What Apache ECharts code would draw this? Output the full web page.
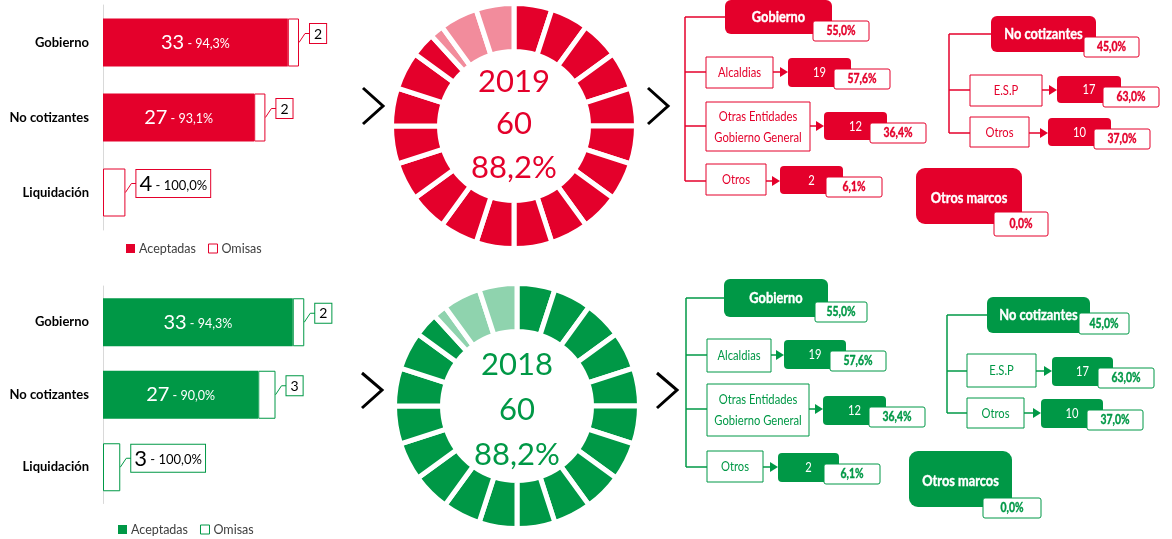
<!DOCTYPE html>
<html>
<head>
<meta charset="utf-8">
<script src="https://cdn.jsdelivr.net/npm/echarts@6/dist/echarts.min.js"></script>
<style>
  html, body { margin: 0; padding: 0; background: #fff; }
  #wrap { position: relative; width: 1172px; height: 539px; }
  .chart { position: absolute; left: 0; top: 0; width: 1172px; height: 539px; }
</style>
</head>
<body>
<div id="wrap">
  <div id="c2019" class="chart"></div>
  <div id="c2018" class="chart"></div>
</div>
<script>
// ---------- data ----------
const categories = ['Gobierno', 'No cotizantes', 'Liquidación'];
const outlinedCategory = 'Liquidación';

const years = [2019, 2018];
const aceptadas2019 = [33, 27, 4];
const omisas2019 = [2, 2, 0];
const pctAceptadas2019 = ['94,3%', '93,1%', '100,0%'];
const aceptadas2018 = [33, 27, 3];
const omisas2018 = [2, 3, 0];
const pctAceptadas2018 = ['94,3%', '90,0%', '100,0%'];

const totalAceptadas = [60, 60];
const pctTotal = [88.2, 88.2];
const pctTotalLabel = ['88,2%', '88,2%'];

const gobiernoShare = ['55,0%', '55,0%'];
const noCotizantesShare = ['45,0%', '45,0%'];
const otrosMarcosShare = ['0,0%', '0,0%'];

const gobiernoGroups = ['Alcaldias', 'Otras Entidades\nGobierno General', 'Otros'];
const gobiernoCounts2019 = [19, 12, 2];
const gobiernoPct2019 = ['57,6%', '36,4%', '6,1%'];
const gobiernoCounts2018 = [19, 12, 2];
const gobiernoPct2018 = ['57,6%', '36,4%', '6,1%'];

const noCotGroups = ['E.S.P', 'Otros'];
const noCotCounts2019 = [17, 10];
const noCotPct2019 = ['63,0%', '37,0%'];
const noCotCounts2018 = [17, 10];
const noCotPct2018 = ['63,0%', '37,0%'];

const SEGMENTS = 20;

// ---------- fonts ----------
const FONT = 'Lato, "Noto Sans", sans-serif';
const NARROW_SCALE = 0.8;   // horizontal squeeze for the diagram captions

// ---------- layouts ----------
const layouts = [
  {
    grid: { left: 103, top: 5, width: 224, height: 225 },
    donut: { cx: 514, cy: 126, textY: [82, 124, 168] },
    chevrons: [[[363, 88], [383, 106], [363, 124]], [[648, 88], [668, 106], [648, 124]]],
    legend: { left: 121, top: 237 },
    gob: {
      lineX: 685,
      header: { x: 725, y: 0, w: 107, h: 34, pct: { dx: 88, dy: 21, w: 56, h: 20 } },
      rows: [
        { y: 72, box: { x: 706, y: 57, w: 67, h: 31 }, val: { x: 788, y: 58, w: 63, h: 29 } },
        { y: 126, box: { x: 706, y: 102, w: 104, h: 49 }, val: { x: 824, y: 112, w: 63, h: 28 } },
        { y: 181, box: { x: 706, y: 164, w: 60, h: 31 }, val: { x: 780, y: 166, w: 63, h: 28 } }
      ]
    },
    noc: {
      lineX: 949,
      header: { x: 991, y: 16, w: 105, h: 36, pct: { dx: 93, dy: 21, w: 55, h: 20 } },
      rows: [
        { y: 90, box: { x: 970, y: 75, w: 72, h: 31 }, val: { x: 1057, y: 76, w: 64, h: 27 } },
        { y: 133, box: { x: 970, y: 117, w: 59, h: 30 }, val: { x: 1048, y: 118, w: 63, h: 28 } }
      ]
    },
    otros: { x: 916, y: 168, w: 106, h: 56, pct: { dx: 78, dy: 44, w: 54, h: 24 } }
  },
  {
    grid: { left: 103, top: 286, width: 230, height: 217.5 },
    donut: { cx: 517, cy: 406, textY: [365, 410, 455] },
    chevrons: [[[362, 373], [382, 390], [362, 408]], [[657, 373], [677, 390], [657, 408]]],
    legend: { left: 113, top: 518 },
    gob: {
      lineX: 686,
      header: { x: 724, y: 279, w: 104, h: 38, pct: { dx: 91, dy: 23, w: 52, h: 20 } },
      rows: [
        { y: 355, box: { x: 707, y: 339, w: 64, h: 33 }, val: { x: 784, y: 340, w: 62, h: 29 } },
        { y: 409, box: { x: 707, y: 384, w: 102, h: 52 }, val: { x: 823, y: 396, w: 63, h: 29 } },
        { y: 467, box: { x: 707, y: 451, w: 56, h: 31 }, val: { x: 778, y: 453, w: 61, h: 29 } }
      ]
    },
    noc: {
      lineX: 947,
      header: { x: 987, y: 297, w: 103, h: 36, pct: { dx: 92, dy: 16, w: 50, h: 21 } },
      rows: [
        { y: 371, box: { x: 967, y: 354, w: 69, h: 33 }, val: { x: 1052, y: 357, w: 61, h: 29 } },
        { y: 413, box: { x: 967, y: 398, w: 57, h: 30 }, val: { x: 1041, y: 399, w: 62, h: 29 } }
      ]
    },
    otros: { x: 909, y: 451, w: 103, h: 56, pct: { dx: 74, dy: 47, w: 58, h: 20 } }
  }
];

const palettes = [
  { main: '#e4002b', light: '#f28c9c' },
  { main: '#009846', light: '#8fd3ae' }
];

// ---------- helpers ----------
function donutPieces(pct, C, L) {
  const filled = pct / 100 * SEGMENTS;
  const out = [];
  for (let i = 0; i < SEGMENTS; i++) {
    const f = Math.max(0, Math.min(1, filled - i));
    if (f > 0) out.push({ value: f, itemStyle: { color: C } });
    if (f < 1) out.push({ value: 1 - f, itemStyle: { color: L } });
  }
  return out;
}

function caption(x, y, s, st) {
  return {
    type: 'text', silent: true, x: x, y: y, scaleX: NARROW_SCALE,
    style: Object.assign({ text: s, align: 'center', verticalAlign: 'middle', textAlign: 'center', textVerticalAlign: 'middle', fontFamily: FONT }, st)
  };
}

// bold captions get a thin same-colour outline so they read as heavy as the headings
function boldCaption(x, y, s, color, size) {
  return caption(x, y, s, { fill: color, fontSize: size, fontWeight: 'bold', stroke: color, lineWidth: 0.4 });
}

function treeElements(t, C, g) {
  const els = [];
  const line = pts => els.push({ type: 'polyline', silent: true, shape: { points: pts }, style: { stroke: C, lineWidth: 1.5, fill: null } });
  const rect = (b, filled, r) => els.push({
    type: 'rect', silent: true,
    shape: { x: b.x, y: b.y, width: b.w, height: b.h, r: r },
    style: filled ? { fill: C } : { fill: '#fff', stroke: C, lineWidth: 1 }
  });
  const text = (x, y, s, st) => els.push(caption(x, y, s, st));
  const h = t.header;
  const hy = h.y + h.h / 2;
  line([[t.lineX, hy], [t.lineX, t.rows[t.rows.length - 1].y]]);
  line([[t.lineX, hy], [h.x, hy]]);
  rect(h, true, 6);
  els.push(boldCaption(h.x + h.w / 2, hy, g.name, '#fff', 16));
  const hp = { x: h.x + h.pct.dx, y: h.y + h.pct.dy, w: h.pct.w, h: h.pct.h };
  rect(hp, false, 2);
  els.push(boldCaption(hp.x + hp.w / 2, hp.y + hp.h / 2, g.share, C, 13));
  t.rows.forEach((r, i) => {
    line([[t.lineX, r.y], [r.box.x, r.y]]);
    rect(r.box, false, 0);
    text(r.box.x + r.box.w / 2, r.box.y + r.box.h / 2, g.groups[i], { fill: C, fontSize: 14, lineHeight: 21 });
    line([[r.box.x + r.box.w, r.y], [r.val.x - 6, r.y]]);
    els.push({ type: 'polygon', silent: true, shape: { points: [[r.val.x - 8, r.y - 5], [r.val.x, r.y], [r.val.x - 8, r.y + 5]] }, style: { fill: C } });
    rect(r.val, true, 4);
    text(r.val.x + r.val.w / 2, r.val.y + r.val.h / 2, String(g.counts[i]), { fill: '#fff', fontSize: 14 });
    const p = { x: r.val.x + 46, y: r.val.y + 11, w: 56, h: 20 };
    rect(p, false, 2);
    els.push(boldCaption(p.x + p.w / 2, p.y + p.h / 2, g.pcts[i], C, 13));
  });
  return els;
}

function otrosMarcosElements(o, C, share) {
  const p = { x: o.x + o.pct.dx, y: o.y + o.pct.dy, w: o.pct.w, h: o.pct.h };
  return [
    { type: 'rect', silent: true, shape: { x: o.x, y: o.y, width: o.w, height: o.h, r: 9 }, style: { fill: C } },
    boldCaption(o.x + o.w / 2, o.y + o.h / 2 + 2, 'Otros marcos', '#fff', 16),
    { type: 'rect', silent: true, shape: { x: p.x, y: p.y, width: p.w, height: p.h, r: 2 }, style: { fill: '#fff', stroke: C, lineWidth: 1 } },
    boldCaption(p.x + p.w / 2, p.y + p.h / 2, share, C, 13)
  ];
}

function buildOption(k, acc, om, pcts, gobCounts, gobPct, nocCounts, nocPct) {
  const lay = layouts[k];
  const C = palettes[k].main, L = palettes[k].light;

  // callout boxes next to bar ends: omisas counts, and the outlined category's own value
  const callouts = [];
  categories.forEach((c, i) => {
    if (c === outlinedCategory) callouts.push({ x: acc[i] + om[i], cat: i, big: true, v: acc[i], pct: pcts[i] });
    else if (om[i] > 0) callouts.push({ x: acc[i] + om[i], cat: i, big: false, v: om[i] });
  });

  const graphics = [];
  lay.chevrons.forEach(pts => graphics.push({ type: 'polyline', silent: true, shape: { points: pts }, style: { stroke: '#000', lineWidth: 3, fill: null } }));
  const centerTexts = [String(years[k]), String(totalAceptadas[k]), pctTotalLabel[k]];
  centerTexts.forEach((s, i) => graphics.push({
    type: 'text', silent: true, x: lay.donut.cx, y: lay.donut.textY[i],
    style: { text: s, align: 'center', verticalAlign: 'middle', textAlign: 'center', textVerticalAlign: 'middle', fill: C, fontSize: 31, fontFamily: FONT }
  }));
  graphics.push(...treeElements(lay.gob, C, { name: 'Gobierno', share: gobiernoShare[k], groups: gobiernoGroups, counts: gobCounts, pcts: gobPct }));
  graphics.push(...treeElements(lay.noc, C, { name: 'No cotizantes', share: noCotizantesShare[k], groups: noCotGroups, counts: nocCounts, pcts: nocPct }));
  graphics.push(...otrosMarcosElements(lay.otros, C, otrosMarcosShare[k]));

  return {
    animation: false,
    textStyle: { fontFamily: FONT },
    grid: lay.grid,
    xAxis: { type: 'value', min: 0, max: 40, show: false },
    yAxis: {
      type: 'category', data: categories, inverse: true,
      axisLine: { show: true, lineStyle: { color: '#d9d9d9', width: 1 } },
      axisTick: { show: false },
      axisLabel: { color: '#000', fontWeight: 'bold', fontSize: 13, margin: 14, fontFamily: FONT }
    },
    legend: {
      left: lay.legend.left, top: lay.legend.top,
      data: [
        { name: 'Aceptadas', itemStyle: { color: C, borderWidth: 0 } },
        { name: 'Omisas', itemStyle: { color: '#fff', borderColor: C, borderWidth: 1 } }
      ],
      icon: 'rect', itemWidth: 9, itemHeight: 9, itemGap: 12,
      textStyle: { color: '#404040', fontSize: 12.5, fontFamily: FONT, padding: [0, 0, 0, -1] }
    },
    series: [
      {
        name: 'Aceptadas', type: 'bar', stack: 'total', barWidth: 48, silent: true,
        itemStyle: { color: C },
        label: {
          show: true, position: 'inside',
          formatter: p => '{a|' + p.value + '}{b| - ' + pcts[p.dataIndex] + '}',
          rich: {
            a: { color: '#fff', fontSize: 20, fontFamily: FONT },
            b: { color: '#fff', fontSize: 12.5, fontFamily: FONT, padding: [3, 0, 0, 0] }
          }
        },
        data: acc.map((v, i) => categories[i] === outlinedCategory
          ? { value: v, itemStyle: { color: '#fff', borderColor: C, borderWidth: 1 }, label: { show: false } }
          : v)
      },
      {
        name: 'Omisas', type: 'bar', stack: 'total', barWidth: 48, silent: true,
        itemStyle: { color: '#fff', borderColor: C, borderWidth: 1 },
        data: om.map(v => v > 0 ? v : '-')
      },
      {
        name: 'callouts', type: 'custom', silent: true, clip: false,
        encode: { x: 0, y: 1 },
        data: callouts.map(d => [d.x, d.cat]),
        renderItem: (params, api) => {
          const d = callouts[params.dataIndex];
          const p = api.coord([d.x, d.cat]);
          const x0 = p[0], y0 = p[1];
          const x1 = x0 + 6, y1 = y0 - 9, x2 = x0 + 11;
          const txt = d.big ? '{a|' + d.v + '}{b| - ' + d.pct + '}' : String(d.v);
          return {
            type: 'group',
            children: [
              { type: 'polyline', shape: { points: [[x0, y0], [x1, y1], [x2, y1]] }, style: { stroke: C, lineWidth: 1, fill: null } },
              { type: 'text', x: x2, y: y1,
                style: {
                  text: txt, align: 'left', verticalAlign: 'middle', textAlign: 'left', textVerticalAlign: 'middle',
                  fill: '#000', fontSize: 14, fontFamily: FONT,
                  backgroundColor: '#fff', borderColor: C, borderWidth: 1,
                  padding: d.big ? [3, 3, 2, 3] : [3, 4, 2, 4],
                  rich: {
                    a: { fill: '#000', fontSize: 22, fontFamily: FONT },
                    b: { fill: '#000', fontSize: 13, fontFamily: FONT, padding: [3, 0, 0, 0] }
                  }
                } }
            ]
          };
        }
      },
      {
        name: 'donut', type: 'pie', silent: true,
        center: [lay.donut.cx, lay.donut.cy], radius: [74.5, 122.5],
        startAngle: 90, clockwise: true,
        label: { show: false }, labelLine: { show: false },
        itemStyle: { borderColor: '#fff', borderWidth: 5 },
        emphasis: { disabled: true },
        data: donutPieces(pctTotal[k], C, L)
      }
    ],
    graphic: { elements: graphics }
  };
}

const chartTop = echarts.init(document.getElementById('c2019'), null, { renderer: 'canvas' });
chartTop.setOption(buildOption(0, aceptadas2019, omisas2019, pctAceptadas2019, gobiernoCounts2019, gobiernoPct2019, noCotCounts2019, noCotPct2019));
const chartBottom = echarts.init(document.getElementById('c2018'), null, { renderer: 'canvas' });
chartBottom.setOption(buildOption(1, aceptadas2018, omisas2018, pctAceptadas2018, gobiernoCounts2018, gobiernoPct2018, noCotCounts2018, noCotPct2018));
</script>
</body>
</html>
